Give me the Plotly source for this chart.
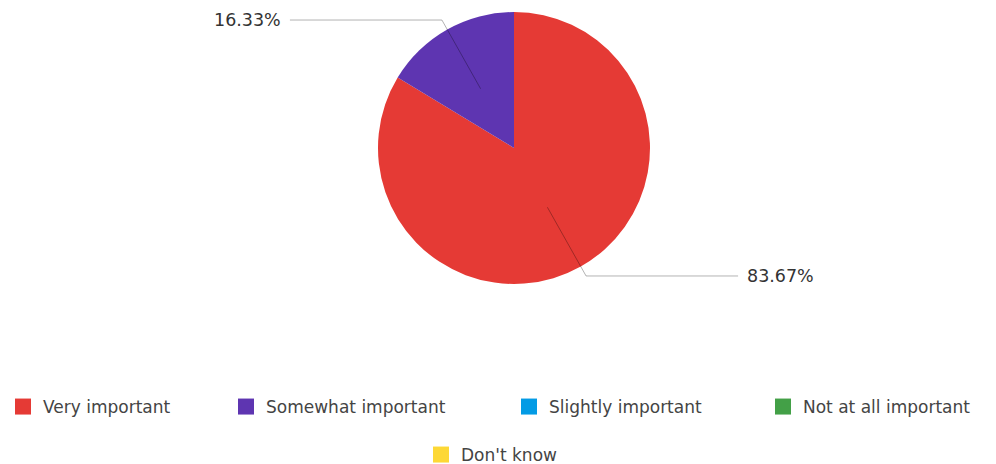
import math
import plotly.graph_objects as go

# Survey answers and their shares (%)
categories = ["Very important", "Somewhat important", "Slightly important",
              "Not at all important", "Don't know"]
shares = [83.67, 16.33, 0, 0, 0]
colors = ["#e53a35", "#5e35b1", "#039be5", "#43a047", "#fdd835"]

W, H = 996, 464
CX, CY, R = 514, 148, 136          # pie centre / radius in pixels
LEG = 152                           # horizontal leader-line leg length
ELBOW = 1.08                        # elbow distance as a fraction of radius
FONT = "DejaVu Sans"

# legend entry anchor positions (left edge x, centre y) in pixels
legend_pos = [(3, 407), (226, 407), (509, 407), (763, 407), (421, 455)]

fig = go.Figure()

fig.add_trace(go.Pie(
    labels=categories,
    values=shares,
    marker=dict(colors=colors, line=dict(width=0)),
    sort=False,
    direction="clockwise",
    rotation=0,
    textinfo="none",
    hoverinfo="label+percent",
    showlegend=False,
    domain=dict(x=[(CX - 200) / W, (CX + 200) / W],
                y=[1 - (CY + R) / H, 1 - (CY - R) / H]),
))

# One legend per entry so each can sit at its own spot
legend_layout = {}
for i, (name, col) in enumerate(zip(categories, colors)):
    key = "legend" if i == 0 else f"legend{i + 1}"
    fig.add_trace(go.Scatter(
        x=[None], y=[None], mode="markers", name=name,
        marker=dict(symbol="square", size=18, color=col, line=dict(width=0)),
        legend=key,
        hoverinfo="skip",
    ))
    lx, ly = legend_pos[i]
    legend_layout[key] = dict(
        orientation="h", xanchor="left", x=lx / W, yanchor="middle", y=1 - ly / H,
        font=dict(family=FONT, size=17, color="#444444"),
        bgcolor="rgba(0,0,0,0)", itemsizing="trace",
    )

# Outside percentage labels with elbow leader lines
total = sum(shares)
start = 90.0
shapes, annotations = [], []
for val in shares:
    if val <= 0:
        continue
    sweep = 360.0 * val / total
    mid = math.radians(start - sweep / 2)
    start -= sweep
    ux, uy = math.cos(mid), -math.sin(mid)
    x0, y0 = CX + 0.5 * R * ux, CY + 0.5 * R * uy
    x1, y1 = CX + ELBOW * R * ux, CY + ELBOW * R * uy
    side = 1 if ux >= 0 else -1
    x2 = x1 + side * LEG
    for (a, b, c, d) in [(x0, y0, x1, y1), (x1, y1, x2, y1)]:
        shapes.append(dict(type="line", xref="paper", yref="paper",
                           x0=a / W, y0=1 - b / H, x1=c / W, y1=1 - d / H,
                           line=dict(color="rgba(0,0,0,0.3)", width=1)))
    annotations.append(dict(
        x=(x2 + side * 7) / W, y=1 - y1 / H, xref="paper", yref="paper",
        text=f"{val:.2f}%", showarrow=False,
        xanchor="left" if side > 0 else "right", yanchor="middle",
        font=dict(family=FONT, size=17.5, color="#333333"),
    ))

fig.update_layout(
    width=W, height=H,
    margin=dict(l=0, r=0, t=0, b=0, autoexpand=False),
    paper_bgcolor="white", plot_bgcolor="white",
    xaxis=dict(visible=False), yaxis=dict(visible=False),
    shapes=shapes,
    annotations=annotations,
    **legend_layout,
)

fig.write_html("out.html")
